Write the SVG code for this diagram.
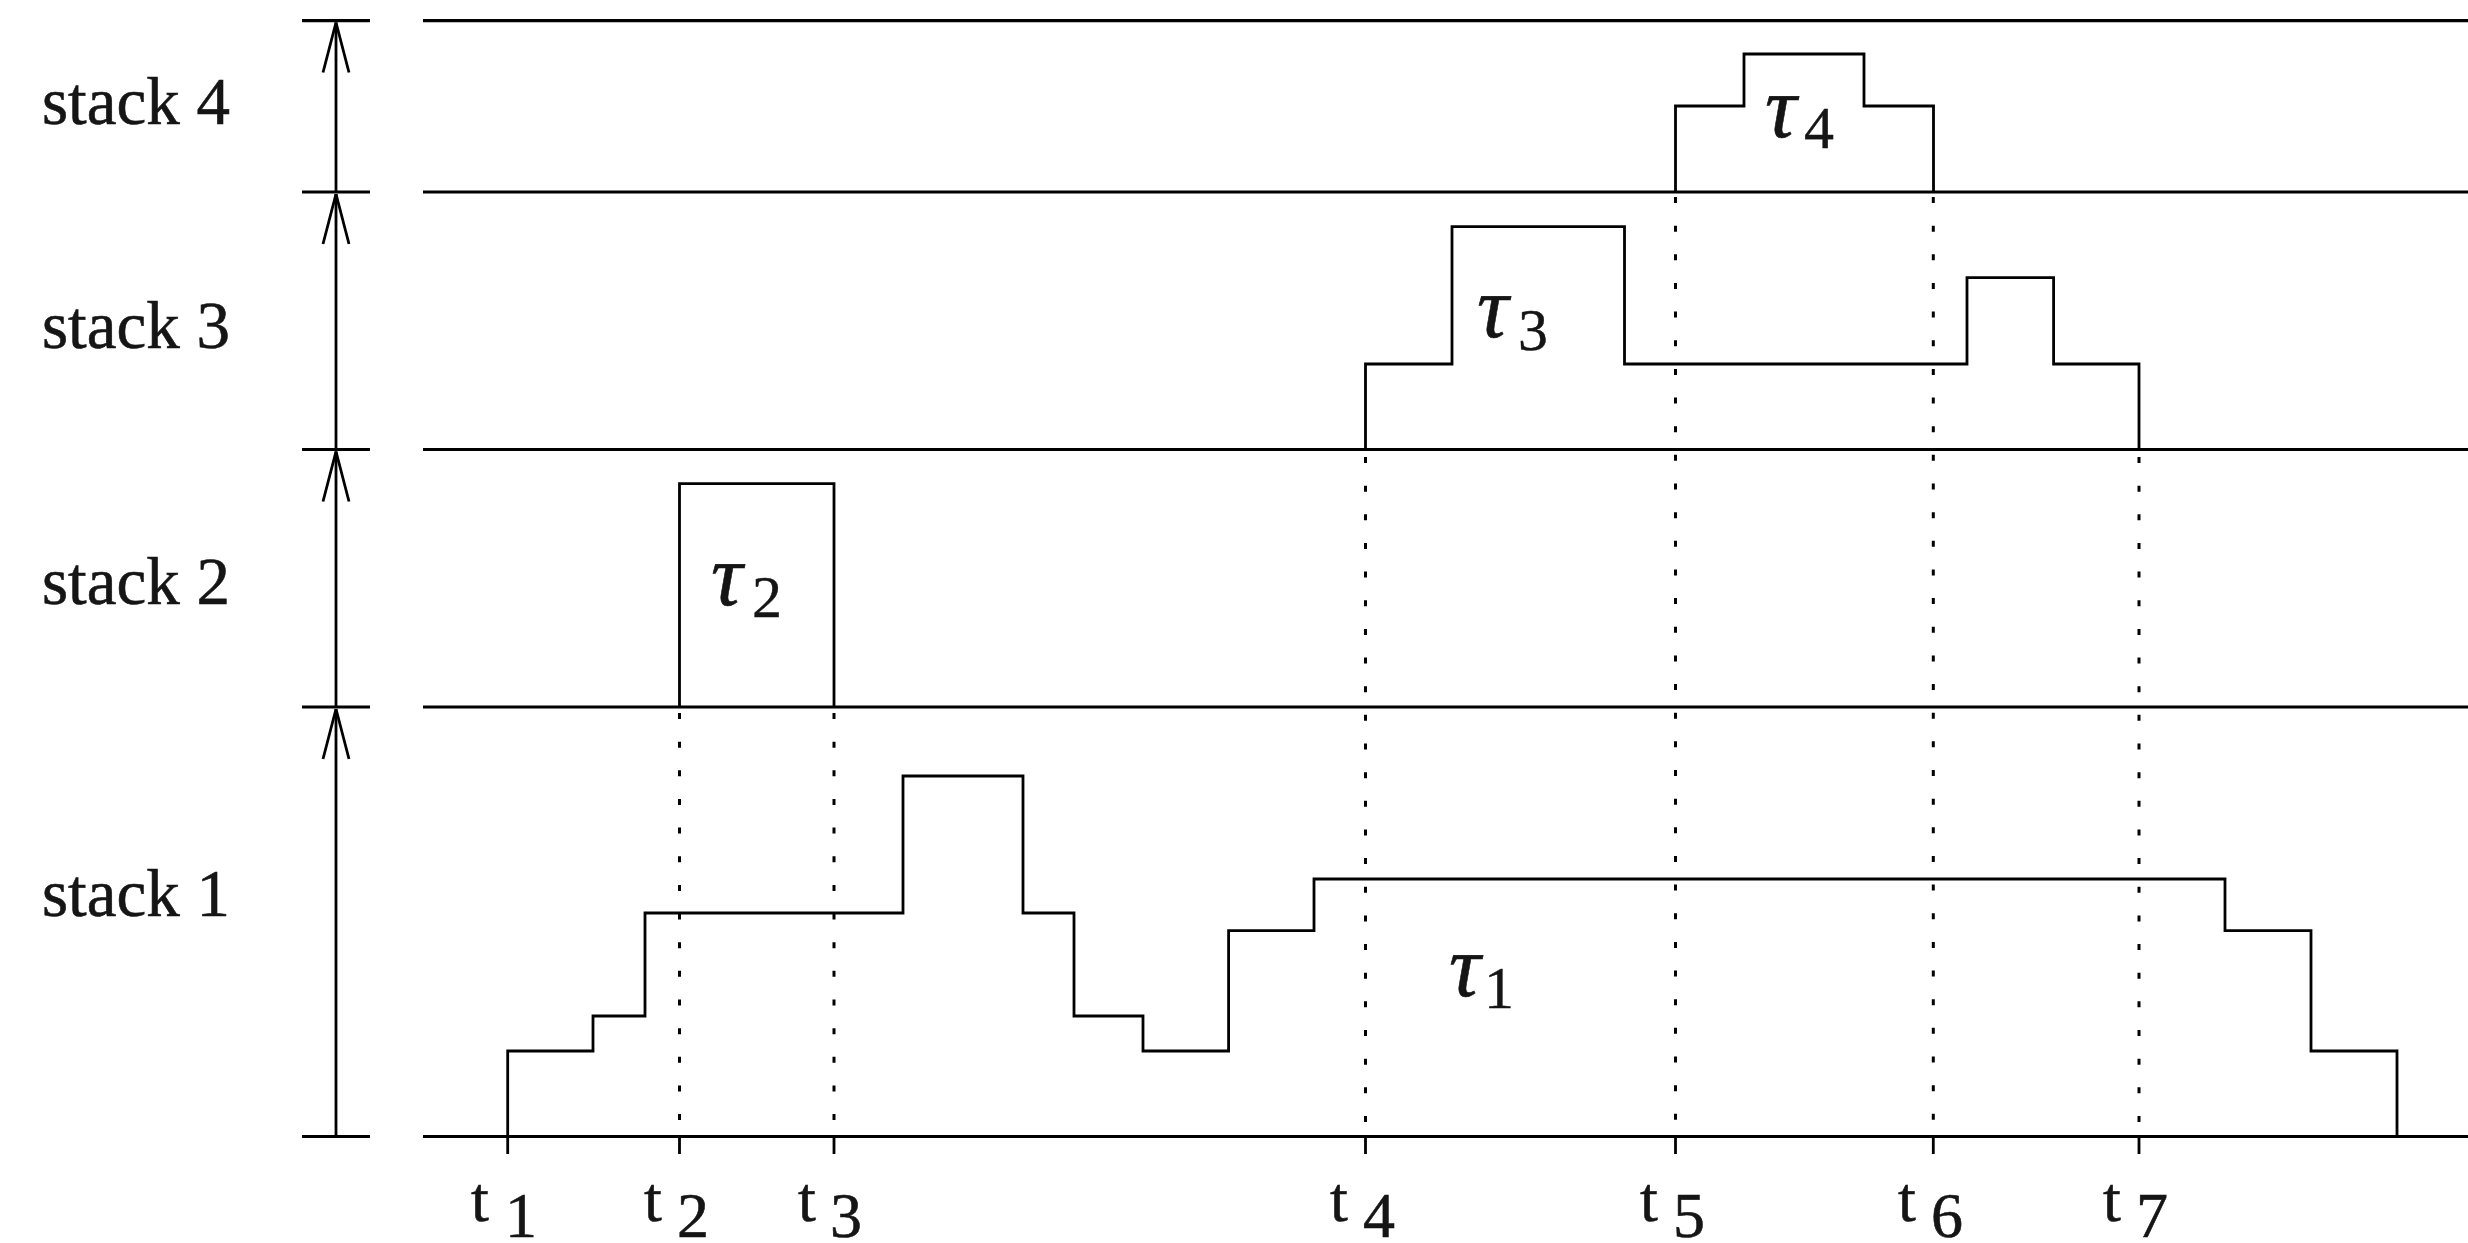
<svg xmlns="http://www.w3.org/2000/svg" width="2468" height="1243" viewBox="0 0 2468 1243">
  <style>
    .axis { stroke: #000; stroke-width: 3.2; fill: none; }
    .prof { stroke: #000; stroke-width: 2.8; fill: none; }
    .guide { stroke: #000; stroke-width: 3; fill: none; stroke-dasharray: 6 22.65; }
    .arrow { stroke: #000; stroke-width: 2.8; fill: none; marker-end: url(#head); }
    .lbl { font-family: "Liberation Serif", "Times New Roman", serif; font-size: 67px; fill: #151515; stroke: #151515; stroke-width: 0.6; }
    .t { font-family: "Liberation Serif", "Times New Roman", serif; font-size: 64px; fill: #151515; stroke: #151515; stroke-width: 0.6; }
    .tau { font-family: "Liberation Serif", "Times New Roman", serif; font-style: italic; font-size: 88px; fill: #151515; stroke: #151515; stroke-width: 0.6; }
    .sub { font-family: "Liberation Serif", "Times New Roman", serif; font-size: 60px; fill: #151515; stroke: #151515; stroke-width: 0.4; }
  </style>
  <defs>
    <marker id="head" markerUnits="userSpaceOnUse" viewBox="-60 -20 70 40" markerWidth="70" markerHeight="40" refX="0" refY="0" orient="auto" overflow="visible">
      <path d="M-50,-13 L0,0 M-50,13 L0,0" stroke="#000" stroke-width="2.8" fill="none"/>
    </marker>
  </defs>

  <rect width="2468" height="1243" fill="#fff"/>

  <!-- stack boundaries: short ticks on the scale, long rules across the chart -->
  <g id="rules">
    <path class="axis" d="M302,20.7 H370 M423,20.7 H2468"/>
    <path class="axis" d="M302,192 H370 M423,192 H2468"/>
    <path class="axis" d="M302,449.5 H370 M423,449.5 H2468"/>
    <path class="axis" d="M302,707 H370 M423,707 H2468"/>
    <path class="axis" d="M302,1136.5 H370 M423,1136.5 H2468"/>
  </g>

  <!-- time ticks below the base rule -->
  <g id="ticks">
    <path class="prof" d="M507.7,1136.5 V1154 M679.5,1136.5 V1154 M834,1136.5 V1154 M1365.5,1136.5 V1154 M1675.5,1136.5 V1154 M1933.3,1136.5 V1154 M2139,1136.5 V1154"/>
  </g>

  <g id="stack-4">
    <text class="lbl" x="42" y="124">stack 4</text>
    <path class="prof" d="M1675.5,192 V106 H1744 V54 H1864 V106 H1933.5 V192"/>
    <text class="tau" x="1765" y="137">τ</text>
    <text class="sub" x="1804" y="148">4</text>
  </g>

  <g id="stack-3">
    <text class="lbl" x="42" y="348">stack 3</text>
    <path class="prof" d="M1365.5,449.5 V364 H1452 V226.7 H1624.5 V364 H1967 V277.7 H2053.6 V364 H2139 V449.5"/>
    <text class="tau" x="1477" y="337">τ</text>
    <text class="sub" x="1518" y="350">3</text>
  </g>

  <g id="stack-2">
    <text class="lbl" x="42" y="604">stack 2</text>
    <path class="prof" d="M679.5,707 V483.7 H834 V707"/>
    <text class="tau" x="711" y="605">τ</text>
    <text class="sub" x="752" y="617">2</text>
  </g>

  <g id="stack-1">
    <text class="lbl" x="42" y="916">stack 1</text>
    <path class="prof" d="M507.7,1136.5 V1051 H593 V1016 H645 V913 H903 V776 H1023 V913 H1074 V1016 H1143 V1051 H1228.6 V930.7 H1314 V879 H2225 V930.7 H2311 V1051 H2397 V1136.5"/>
    <text class="tau" x="1449" y="996">τ</text>
    <text class="sub" x="1484" y="1008">1</text>
  </g>

  <g id="time-labels">
    <text class="t" x="471" y="1221">t</text><text class="t" x="505" y="1237">1</text>
    <text class="t" x="644" y="1221">t</text><text class="t" x="677" y="1237">2</text>
    <text class="t" x="798" y="1221">t</text><text class="t" x="830" y="1237">3</text>
    <text class="t" x="1330" y="1221">t</text><text class="t" x="1363" y="1237">4</text>
    <text class="t" x="1640" y="1221">t</text><text class="t" x="1673" y="1237">5</text>
    <text class="t" x="1898" y="1221">t</text><text class="t" x="1931" y="1237">6</text>
    <text class="t" x="2103" y="1221">t</text><text class="t" x="2136" y="1237">7</text>
  </g>

  <g id="connectors">
    <!-- height arrows on the scale -->
    <path class="arrow" d="M336,192 V22.5"/>
    <path class="arrow" d="M336,449.5 V194"/>
    <path class="arrow" d="M336,707 V451.5"/>
    <path class="arrow" d="M336,1136.5 V709"/>
    <!-- dotted guides at the event times -->
    <path class="guide" d="M679.5,713 V1136.5"/>
    <path class="guide" d="M834,713 V1136.5"/>
    <path class="guide" d="M1365.5,457 V1136.5"/>
    <path class="guide" d="M1675.5,197 V1136.5"/>
    <path class="guide" d="M1933.3,197 V1136.5"/>
    <path class="guide" d="M2139,457 V1136.5"/>
  </g>
</svg>
